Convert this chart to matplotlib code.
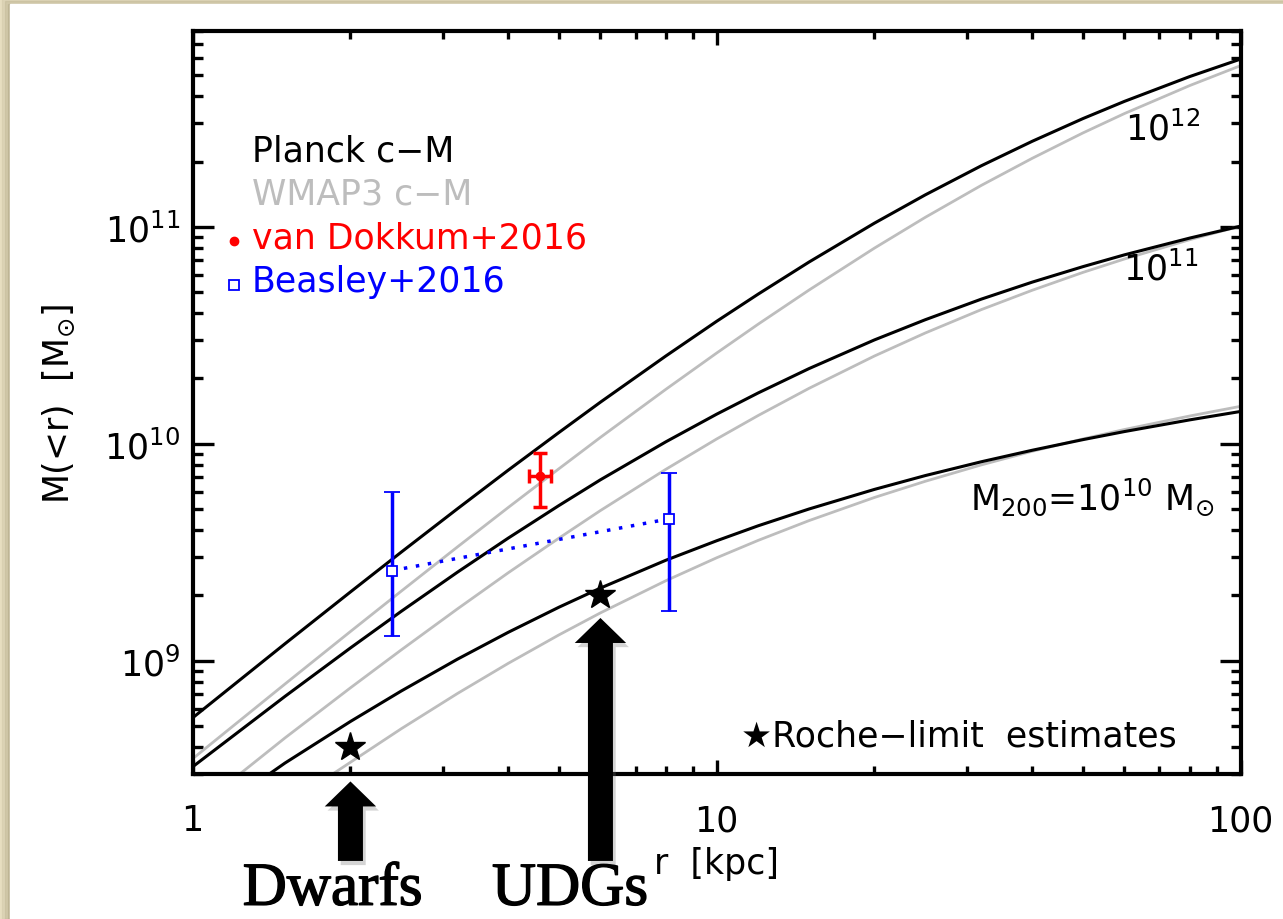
import matplotlib
matplotlib.use('Agg')
import matplotlib.pyplot as plt
import matplotlib.patheffects as pe
import matplotlib.transforms as mtransforms
from matplotlib.patches import Rectangle
from matplotlib.ticker import FixedLocator, LogLocator, NullFormatter

plt.rcParams['font.family'] = ['DejaVu Sans']
plt.rcParams['mathtext.fontset'] = 'dejavusans'

# --- data (r in kpc, M(<r) in Msun) ---
r_grid = [1, 1.5, 2, 2.5, 3.2, 4, 5, 6, 8, 10, 12, 15, 20, 25, 32, 40, 50, 60, 80, 100]

m_planck_12 = [5.45e8, 1.196e9, 2.073e9, 3.163e9, 5.012e9, 7.55e9, 1.127e10, 1.555e10, 2.540e10, 3.67e10,
               4.897e10, 6.88e10, 1.0402e11, 1.404e11, 1.914e11, 2.48e11, 3.157e11, 3.79e11, 4.936e11, 5.94e11]
m_wmap3_12 = [3.53e8, 7.80e8, 1.362e9, 2.09e9, 3.342e9, 5.08e9, 7.67e9, 1.070e10, 1.783e10, 2.62e10,
              3.559e10, 5.11e10, 7.98e10, 1.106e11, 1.554e11, 2.07e11, 2.711e11, 3.33e11, 4.486e11, 5.54e11]
m_planck_11 = [3.24e8, 6.84e8, 1.144e9, 1.687e9, 2.556e9, 3.67e9, 5.19e9, 6.82e9, 1.021e10, 1.369e10,
               1.715e10, 2.22e10, 3.011e10, 3.73e10, 4.644e10, 5.56e10, 6.555e10, 7.43e10, 8.882e10, 1.008e11]

r_wmap3_11 = [1.23, 1.5, 2, 2.5, 3.2, 4, 5, 6, 8, 10, 12, 15, 20, 25, 32, 40, 50, 60, 80, 100]
m_wmap3_11 = [3.0e8, 4.40e8, 7.49e8, 1.120e9, 1.731e9, 2.54e9, 3.670e9, 4.92e9, 7.625e9, 1.052e10,
              1.3495e10, 1.80e10, 2.538e10, 3.24e10, 4.155e10, 5.10e10, 6.166e10, 7.11e10, 8.733e10, 1.009e11]

r_planck_10 = [1.40, 1.5, 2, 2.5, 3.2, 4, 5, 6, 8, 10, 12, 15, 20, 25, 32, 40, 50, 60, 80, 100]
m_planck_10 = [3.0e8, 3.37e8, 5.24e8, 7.24e8, 1.015e9, 1.350e9, 1.763e9, 2.16e9, 2.903e9, 3.57e9,
               4.185e9, 5.00e9, 6.158e9, 7.13e9, 8.26e9, 9.33e9, 1.0445e10, 1.138e10, 1.2887e10, 1.409e10]

r_wmap3_10 = [1.85, 2.5, 3.2, 4, 5, 6, 8, 10, 12, 15, 20, 25, 32, 40, 50, 60, 80, 100]
m_wmap3_10 = [3.0e8, 4.85e8, 7.05e8, 9.71e8, 1.314e9, 1.660e9, 2.336e9, 2.98e9, 3.584e9, 4.42e9,
              5.652e9, 6.71e9, 7.99e9, 9.23e9, 1.052e10, 1.163e10, 1.343e10, 1.488e10]

# van Dokkum+2016
vd_r = [4.6]
vd_m = [7.1e9]
vd_xerr_lo = [0.21]
vd_xerr_hi = [0.22]
vd_m_lo = [5.1e9]
vd_m_hi = [9.1e9]

# Beasley+2016
bea_r = [2.4, 8.1]
bea_m = [2.6e9, 4.5e9]
bea_m_lo = [1.3e9, 1.7e9]
bea_m_hi = [6.0e9, 7.35e9]

# Roche-limit estimates
roche_r = [2.0, 6.0]
roche_m = [4.0e8, 2.0e9]

# arrows below the axis: Dwarfs, UDGs
arrow_r = [2.0, 6.0]
arrow_labels = ['Dwarfs', 'UDGs']
arrow_label_r = [1.85, 5.25]

BLACK = 'black'
GRAY = '#bdbdbd'
FS = 25

fig = plt.figure(figsize=(12.83, 9.2), dpi=100, facecolor='#e7dec0')

# white slide panel with a soft shadow on the left
for off, a in [(2, 0.12), (5, 0.18), (8, 0.25)]:
    fig.patches.append(Rectangle((off / 1283, 0), 1, (920 - 5 + 8 - off) / 920,
                                 transform=fig.transFigure, color='#9c9270',
                                 alpha=a, zorder=-3))
fig.patches.append(Rectangle((10 / 1283, 0), 1, (920 - 5) / 920,
                             transform=fig.transFigure, color='white', zorder=-2))

ax = fig.add_axes([0.1502, 0.1576, 0.8168, 0.8076])
ax.set_facecolor('white')
ax.set_xscale('log')
ax.set_yscale('log')
ax.set_xlim(1, 100)
ax.set_ylim(3e8, 8e11)

# model curves
ax.plot(r_grid, m_planck_12, color=BLACK, lw=2.2, zorder=3)
ax.plot(r_grid, m_wmap3_12, color=GRAY, lw=2.0, zorder=2)
ax.plot(r_grid, m_planck_11, color=BLACK, lw=2.2, zorder=3)
ax.plot(r_wmap3_11, m_wmap3_11, color=GRAY, lw=2.0, zorder=2)
ax.plot(r_planck_10, m_planck_10, color=BLACK, lw=2.2, zorder=3)
ax.plot(r_wmap3_10, m_wmap3_10, color=GRAY, lw=2.0, zorder=2)

# Beasley
ax.plot(bea_r, bea_m, color='blue', ls=(0, (1, 2.5)), lw=2.5, zorder=4)
bea_err = [[m - lo for m, lo in zip(bea_m, bea_m_lo)],
           [hi - m for m, hi in zip(bea_m, bea_m_hi)]]
ax.errorbar(bea_r, bea_m, yerr=bea_err, fmt='s', mfc='white', mec='blue',
            ms=7, mew=1.3, ecolor='blue', elinewidth=2.5, capsize=6,
            capthick=2.5, zorder=5)

# van Dokkum
vd_err = [[m - lo for m, lo in zip(vd_m, vd_m_lo)],
          [hi - m for m, hi in zip(vd_m, vd_m_hi)]]
ax.errorbar(vd_r, vd_m, xerr=[vd_xerr_lo, vd_xerr_hi], yerr=vd_err, fmt='o',
            color='red', ms=6, elinewidth=2.5, capsize=5, capthick=2.5, zorder=5)

# Roche-limit stars
ax.plot(roche_r, roche_m, ls='none', marker='*', color='black', ms=22, zorder=6)

# axes styling
for s in ax.spines.values():
    s.set_linewidth(3)
ax.xaxis.set_major_locator(FixedLocator([1, 10, 100]))
ax.set_xticklabels(['1', '10', '100'])
ax.yaxis.set_major_locator(FixedLocator([1e9, 1e10, 1e11]))
ax.set_yticklabels([r'$10^{9}$', r'$10^{10}$', r'$10^{11}$'])
ax.xaxis.set_minor_locator(LogLocator(base=10, subs=range(2, 10)))
ax.yaxis.set_minor_locator(LogLocator(base=10, subs=range(2, 10)))
ax.xaxis.set_minor_formatter(NullFormatter())
ax.yaxis.set_minor_formatter(NullFormatter())
ax.tick_params(which='both', direction='in', top=True, right=True, width=2.4,
               labelsize=FS)
ax.tick_params(axis='x', which='major', length=10, pad=21)
ax.tick_params(axis='x', which='minor', length=6)
ax.tick_params(axis='y', which='major', length=15, pad=9)
ax.tick_params(axis='y', which='minor', length=7.5)

ax.set_xlabel('r  [kpc]', fontsize=FS)
ax.xaxis.set_label_coords(0.5, -0.097)
ax.set_ylabel(r'M(<r)  [M$_{\odot}$]', fontsize=FS)
ax.yaxis.set_label_coords(-0.11, 0.5)

# legend-like text
ax.text(0.0566, 0.8254, 'Planck c\u2212M', color=BLACK, fontsize=FS,
        transform=ax.transAxes, va='baseline')
ax.text(0.0566, 0.7672, 'WMAP3 c\u2212M', color=GRAY, fontsize=FS,
        transform=ax.transAxes, va='baseline')
ax.text(0.0566, 0.7089, 'van Dokkum+2016', color='red', fontsize=FS,
        transform=ax.transAxes, va='baseline')
ax.text(0.0566, 0.6497, 'Beasley+2016', color='blue', fontsize=FS,
        transform=ax.transAxes, va='baseline')
ax.plot([0.039], [0.717], 'o', color='red', ms=6, transform=ax.transAxes,
        clip_on=False)
ax.plot([0.0393], [0.6586], 's', mfc='white', mec='blue', ms=7, mew=1.3,
        transform=ax.transAxes, clip_on=False)

# curve labels
ax.text(0.961, 0.8546, r'10$^{12}$', fontsize=FS, ha='right', va='baseline',
        transform=ax.transAxes)
ax.text(0.959, 0.6653, r'10$^{11}$', fontsize=FS, ha='right', va='baseline',
        transform=ax.transAxes)
ax.text(0.9757, 0.3567, r'M$_{200}$=10$^{10}$ M$_{\odot}$', fontsize=FS,
        ha='right', va='baseline', transform=ax.transAxes)
ax.text(0.9392, 0.0377, '\u2605Roche\u2212limit  estimates', fontsize=FS,
        ha='right', va='baseline', transform=ax.transAxes)

# arrows + serif labels below the plot
blend = mtransforms.blended_transform_factory(ax.transData, ax.transAxes)
arrow_tips = [-0.01, 0.21]
for r, tip in zip(arrow_r, arrow_tips):
    ax.annotate('', xy=(r, tip), xytext=(r, -0.117), xycoords=blend,
                textcoords=blend, annotation_clip=False, zorder=10,
                arrowprops=dict(arrowstyle='simple,head_length=1.8,head_width=3.7,tail_width=1.8',
                                fc='black', ec='black', lw=0, shrinkA=0, shrinkB=0,
                                mutation_scale=10,
                                path_effects=[pe.SimplePatchShadow(offset=(2, -3),
                                                                   shadow_rgbFace='0.45',
                                                                   alpha=0.3),
                                              pe.Normal()]))
for r, lab in zip(arrow_label_r, arrow_labels):
    ax.text(r, -0.176, lab, transform=blend, ha='center', va='baseline',
            fontsize=44, family='Liberation Serif', clip_on=False, zorder=10,
            path_effects=[pe.withStroke(linewidth=1.0, foreground='black')])

fig.savefig('out.png', dpi=100, facecolor=fig.get_facecolor())
